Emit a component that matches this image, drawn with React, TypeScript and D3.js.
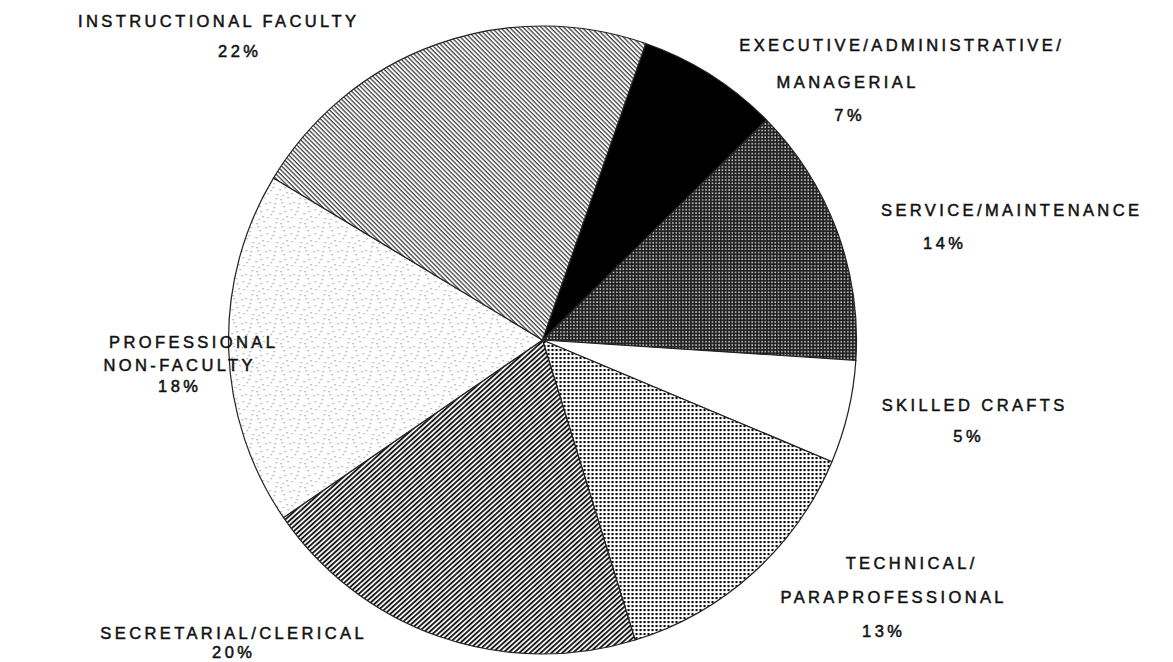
import * as d3 from 'd3'
import { useEffect, useRef } from 'react'

// slices clockwise, starting at the black one
const categories = [
  'Executive/Administrative/Managerial',
  'Service/Maintenance',
  'Skilled Crafts',
  'Technical/Paraprofessional',
  'Secretarial/Clerical',
  'Professional Non-Faculty',
  'Instructional Faculty',
]
const shares = [7.3, 13.4, 5.3, 13.9, 20.2, 18.2, 21.7]
const percentLabels = ['7%', '14%', '5%', '13%', '20%', '18%', '22%']
const labelLines = [
  ['EXECUTIVE/ADMINISTRATIVE/', 'MANAGERIAL'],
  ['SERVICE/MAINTENANCE'],
  ['SKILLED CRAFTS'],
  ['TECHNICAL/', 'PARAPROFESSIONAL'],
  ['SECRETARIAL/CLERICAL'],
  ['PROFESSIONAL', 'NON-FACULTY'],
  ['INSTRUCTIONAL FACULTY'],
]

// where each text line sits: [centerX, baseline] per line, percent last
const labelLayout: [number, number][][] = [
  [[900, 51], [846, 88], [848, 121]],
  [[1010, 216], [943, 249]],
  [[973, 411], [967, 442]],
  [[910, 569], [892, 603], [882, 637]],
  [[232, 639], [232, 658]],
  [[192, 348], [178, 371], [178, 392]],
  [[217, 27], [238, 57]],
]

const fills = ['#000', 'url(#service)', '#fff', 'url(#technical)', 'url(#secretarial)', 'url(#professional)', 'url(#instructional)']

const stipple = [
  [2, 3], [9, 1], [15, 6], [21, 2], [5, 10], [12, 13], [19, 11], [1, 17],
  [8, 20], [16, 18], [22, 22], [4, 23], [11, 7], [18, 15], [6, 15], [13, 21],
  [20, 7], [3, 6],
]

const Chart = () => {
  const svgRef = useRef<SVGSVGElement>(null)
  const width = 1173
  const height = 662
  const cx = 542.5
  const cy = 340
  const radius = 314
  const letterSpacing = 3.4

  useEffect(() => {
    const svg = d3.create('svg')
      .attr('width', width)
      .attr('height', height)
      .attr('viewBox', [0, 0, width, height].join(' '))
      .style('position', 'absolute')
      .style('left', '0px')
      .style('top', '0px')
      .style('background', '#fff')

    const defs = svg.append('defs')

    // thin diagonal lines
    const inst = defs.append('pattern')
      .attr('id', 'instructional')
      .attr('patternUnits', 'userSpaceOnUse')
      .attr('width', 3.2).attr('height', 3.2)
      .attr('patternTransform', 'rotate(45)')
    inst.append('rect').attr('width', 3.2).attr('height', 3.2).attr('fill', '#fff')
    inst.append('rect').attr('width', 3.2).attr('height', 1.3).attr('fill', '#444')

    // heavier diagonal lines, other direction
    const sec = defs.append('pattern')
      .attr('id', 'secretarial')
      .attr('patternUnits', 'userSpaceOnUse')
      .attr('width', 3.6).attr('height', 3.6)
      .attr('patternTransform', 'rotate(-42)')
    sec.append('rect').attr('width', 3.6).attr('height', 3.6).attr('fill', '#fff')
    sec.append('rect').attr('width', 3.6).attr('height', 1.9).attr('fill', '#1a1a1a')

    // dark grid with white holes
    const serv = defs.append('pattern')
      .attr('id', 'service')
      .attr('patternUnits', 'userSpaceOnUse')
      .attr('width', 3.3).attr('height', 3.3)
    serv.append('rect').attr('width', 3.3).attr('height', 3.3).attr('fill', '#222')
    serv.append('rect').attr('x', 1.1).attr('y', 1.1).attr('width', 1.3).attr('height', 1.3).attr('fill', '#fff')

    // black dots on white
    const tech = defs.append('pattern')
      .attr('id', 'technical')
      .attr('patternUnits', 'userSpaceOnUse')
      .attr('width', 4).attr('height', 4)
    tech.append('rect').attr('width', 4).attr('height', 4).attr('fill', '#fff')
    tech.append('rect').attr('x', 1).attr('y', 1).attr('width', 2.1).attr('height', 2.1).attr('fill', '#000')

    // sparse grey stipple
    const prof = defs.append('pattern')
      .attr('id', 'professional')
      .attr('patternUnits', 'userSpaceOnUse')
      .attr('width', 24).attr('height', 24)
    prof.append('rect').attr('width', 24).attr('height', 24).attr('fill', '#fff')
    prof.selectAll('rect.dot')
      .data(stipple)
      .join('rect')
      .attr('class', 'dot')
      .attr('x', d => d[0]).attr('y', d => d[1])
      .attr('width', 1.3).attr('height', 1.3)
      .attr('fill', '#999')

    const start = (19.2 * Math.PI) / 180
    const pie = d3.pie<number>()
      .sort(null)
      .value(d => d)
      .startAngle(start)
      .endAngle(start + 2 * Math.PI)
    const arc = d3.arc<d3.PieArcDatum<number>>()
      .innerRadius(0)
      .outerRadius(radius)

    svg.append('g')
      .attr('transform', `translate(${cx},${cy})`)
      .selectAll('path')
      .data(pie(shares))
      .join('path')
      .attr('d', arc)
      .attr('fill', (_, i) => fills[i])
      .attr('stroke', '#222')
      .attr('stroke-width', 1.2)
      .attr('stroke-linejoin', 'round')
      .append('title')
      .text((d, i) => `${categories[i]}: ${percentLabels[i]}`)

    const labels = svg.append('g')
      .attr('font-family', '"Liberation Sans", Arial, sans-serif')
      .attr('font-size', 16.5)
      .attr('fill', '#111')
      .attr('stroke', '#111')
      .attr('stroke-width', 0.5)
      .attr('letter-spacing', letterSpacing)
      .attr('text-anchor', 'middle')

    categories.forEach((_, i) => {
      const lines = [...labelLines[i], percentLabels[i]]
      lines.forEach((t, j) => {
        const [x, y] = labelLayout[i][j]
        labels.append('text')
          .attr('x', x + letterSpacing / 2)
          .attr('y', y)
          .text(t)
      })
    })

    svgRef.current?.replaceWith(svg.node()!)
  }, [])

  return <svg ref={svgRef} />
}

export default function App() {
  return <Chart />
}
